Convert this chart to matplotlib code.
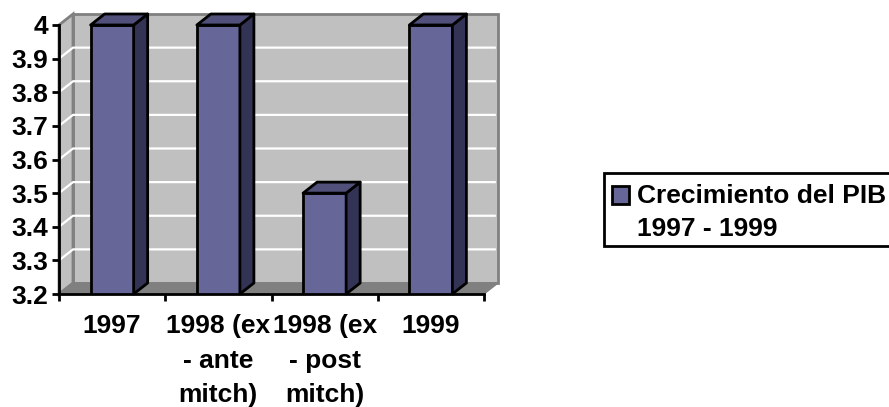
import matplotlib
matplotlib.use('Agg')
import matplotlib.pyplot as plt
from matplotlib.patches import Patch, Polygon

categories = ['1997', '1998 (ex\n- ante\nmitch)', '1998 (ex\n- post\nmitch)', '1999']
growth = [4.0, 4.0, 3.5, 4.0]
y_ticks = [3.2, 3.3, 3.4, 3.5, 3.6, 3.7, 3.8, 3.9, 4.0]
y_labels = ['3.2', '3.3', '3.4', '3.5', '3.6', '3.7', '3.8', '3.9', '4']
legend_label = 'Crecimiento del PIB\n1997 - 1999'

plt.rcParams['font.family'] = ['Liberation Sans', 'DejaVu Sans']
plt.rcParams['font.weight'] = 'bold'

W, H = 889, 407
fig = plt.figure(figsize=(W / 100, H / 100), dpi=100)
# axes = front plane of the fake 3d box, the depth is drawn outside of it
ax = fig.add_axes([59 / W, 1 - 294 / H, 425 / W, 269 / H])

n = len(categories)
ymin, ymax = y_ticks[0], y_ticks[-1]
ax.set_xlim(0, n)
ax.set_ylim(ymin, ymax)

# depth offset in data units
dx = 14 / 425 * n
dy = 11 / 269 * (ymax - ymin)
wall = '#c0c0c0'
edge = '#808080'
lw = 2.0

# back wall, side wall, floor
ax.add_patch(Polygon([(dx, ymin + dy), (n + dx, ymin + dy), (n + dx, ymax + dy), (dx, ymax + dy)],
                     fc=wall, ec=edge, lw=lw, clip_on=False, zorder=1))
ax.add_patch(Polygon([(0, ymin), (dx, ymin + dy), (dx, ymax + dy), (0, ymax)],
                     fc=wall, ec=edge, lw=lw, clip_on=False, zorder=1))
ax.add_patch(Polygon([(0, ymin), (n, ymin), (n + dx, ymin + dy), (dx, ymin + dy)],
                     fc=edge, ec=edge, lw=1, clip_on=False, zorder=1.5))

# white gridlines on both walls
for v in y_ticks[1:-1]:
    ax.plot([0, dx, n + dx - 0.02], [v, v + dy, v + dy], color='white', lw=1.6,
            clip_on=False, zorder=2, solid_capstyle='butt')

# bars
bar_w = 0.405
xs = [i + 0.5 for i in range(n)]
ax.bar(xs, growth, bottom=0, width=bar_w, color='#666699', edgecolor='black', linewidth=lw, zorder=3)
for x, v in zip(xs, growth):
    l, r = x - bar_w / 2, x + bar_w / 2
    ax.add_patch(Polygon([(r, ymin), (r + dx, ymin + dy), (r + dx, v + dy), (r, v)],
                         fc='#333355', ec='black', lw=lw, clip_on=False, zorder=3, joinstyle='round'))
    ax.add_patch(Polygon([(l, v), (r, v), (r + dx, v + dy), (l + dx, v + dy)],
                         fc='#50507a', ec='black', lw=lw, clip_on=False, zorder=3, joinstyle='round'))

# axes lines and ticks
for s in ['top', 'right']:
    ax.spines[s].set_visible(False)
for s in ['left', 'bottom']:
    ax.spines[s].set_linewidth(lw)
    ax.spines[s].set_zorder(4)
ax.patch.set_visible(False)
ax.set_yticks(y_ticks)
ax.set_yticklabels(y_labels)
ax.set_xticks(range(n + 1))
ax.set_xticklabels([])
ax.set_xticks(xs, minor=True)
ax.set_xticklabels(categories, minor=True, linespacing=1.55)
ax.tick_params(axis='both', which='major', length=5, width=lw, color='black')
ax.tick_params(axis='y', labelsize=19, pad=3)
ax.tick_params(axis='x', which='minor', length=0, labelsize=19, pad=14.5)

leg = fig.legend(handles=[Patch(fc='#666699', ec='black', lw=lw, label=legend_label)],
                 loc='upper left', bbox_to_anchor=(604 / W, 1 - 173 / H), bbox_transform=fig.transFigure,
                 fontsize=19, fancybox=False, framealpha=1, edgecolor='black', borderaxespad=0,
                 borderpad=0.3, handlelength=0.64, handleheight=0.64, handletextpad=0.3,
                 labelspacing=0)
leg.get_frame().set_linewidth(lw)
leg.get_texts()[0].set_linespacing(1.48)
# nudge text and handle down inside the box
leg.get_texts()[0].set_y(-3)
leg.legend_handles[0].set_y(11)

fig.savefig('out.png', dpi=100)
